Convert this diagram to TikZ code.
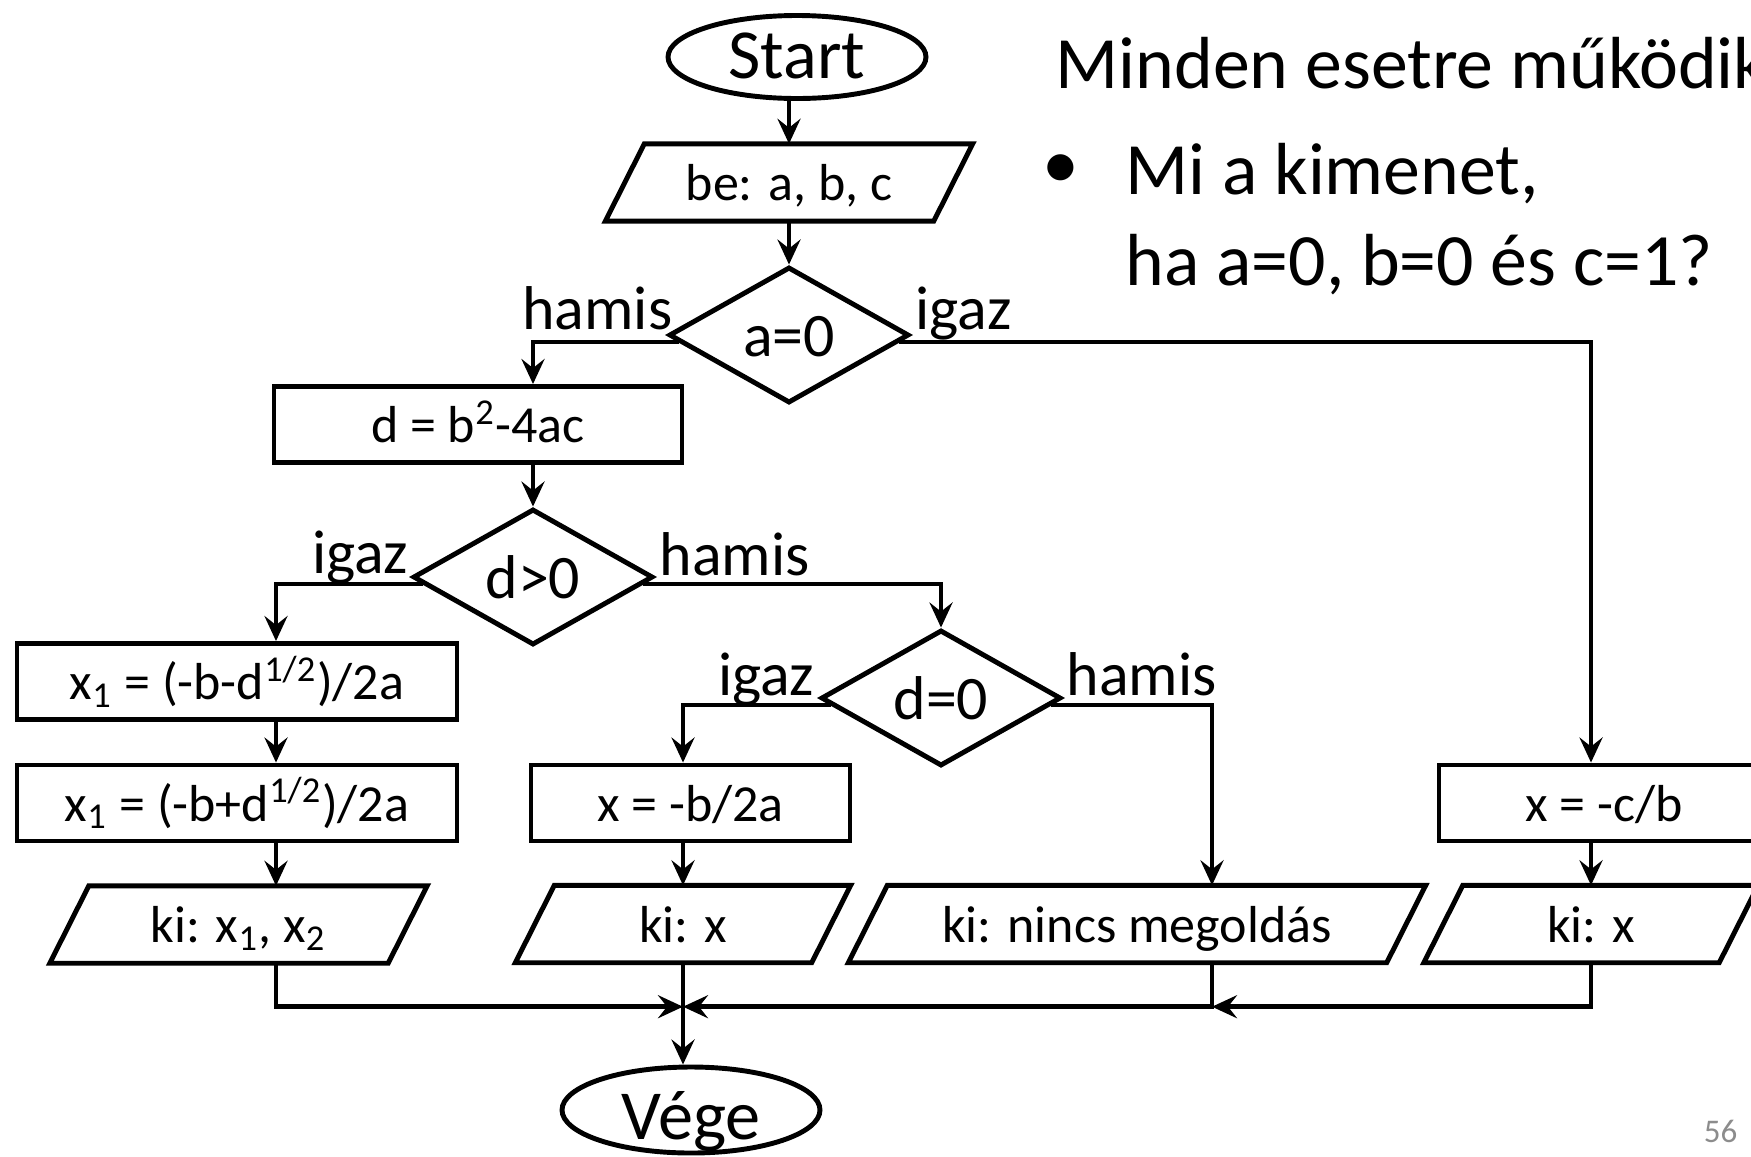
\documentclass[tikz,border=0pt]{standalone}
\usepackage{fontspec}
\setmainfont{Carlito}
\usetikzlibrary{shapes.geometric,arrows.meta,calc}

% parallelogram for input/output steps: #1 name, #2 x, #3 y, #4 side length, #5 text
\newcommand\ioshape[5]{%
  \node[iotext, minimum width=#4] (#1) at (#2,#3) {#5};
  \draw[shapeline] ([xshift=1.95mm]#1.north west) -- ([xshift=1.95mm]#1.north east)
    -- ([xshift=-1.95mm]#1.south east) -- ([xshift=-1.95mm]#1.south west) -- cycle;
}

\begin{document}
\begin{tikzpicture}[x=0.1mm,y=-0.1mm,
  shapeline/.style={line width=1.4pt, line join=miter},
  flow/.style={line width=1.3pt, -{Stealth[length=2.5mm,width=2.3mm,inset=0.9mm]}},
  boxtxt/.style={font=\fontsize{14.8}{17}\selectfont, text height=10.4pt, text depth=0pt, inner sep=0pt},
  procbox/.style={boxtxt, draw, shapeline, minimum height=7.6mm},
  iotext/.style={boxtxt, minimum height=7.6mm},
  decision/.style={diamond, draw, shapeline, aspect=1.76, inner sep=0pt,
    minimum width=24mm, minimum height=13.6mm,
    font=\fontsize{17.6}{20}\selectfont, text height=12.3pt, text depth=0pt},
  terminal/.style={ellipse, draw, shapeline, inner sep=0pt, minimum width=25.8mm,
    font=\fontsize{20}{23}\selectfont, text depth=0pt},
  branch/.style={font=\fontsize{17.6}{20}\selectfont, inner sep=0pt},
  bigtext/.style={font=\fontsize{21}{25}\selectfont, inner sep=0pt},
]
\useasboundingbox (0,0) rectangle (1751,1156);
\fill[white] (0,0) rectangle (1751,1156);
\clip (0,0) rectangle (1751,1156);

% column positions of the connectors
\coordinate (colA) at (276,0);
\coordinate (colC) at (1212,0);

% nodes
\node[terminal, minimum height=8.3mm, text height=12.5pt] (start) at (797,57) {Start};
\ioshape{in}{789}{182.5}{32.7mm}{be: a, b, c}
\node[decision] (a0) at (789,335) {a=0};
\node[procbox, minimum width=40.8mm] (dd) at (478,424.5) {d = b\textsuperscript{2}-4ac};
\node[decision] (dgt) at (533,577) {d>0};
\node[decision] (deq) at (941,698) {d=0};
\node[procbox, minimum width=44mm] (xa) at (237,681.5) {x\textsubscript{1} = (-b-d\textsuperscript{1/2})/2a};
\node[procbox, minimum width=44mm] (xb) at (237,803) {x\textsubscript{1} = (-b+d\textsuperscript{1/2})/2a};
\node[procbox, minimum width=31.9mm] (xs) at (690.5,803) {x = -b/2a};
\node[procbox, minimum width=33mm] (xc) at (1604,803) {x = -c/b};
\ioshape{outa}{238.5}{924.5}{33.7mm}{ki: x\textsubscript{1}, x\textsubscript{2}}
\ioshape{outb}{683}{924}{29.5mm}{ki: x}
\ioshape{outc}{1137}{924}{53.7mm}{ki: nincs megoldás}
\ioshape{outd}{1591}{924}{29.4mm}{ki: x}
\node[terminal, minimum height=8.6mm, text height=17pt] (end) at (691,1110) {Vége};

% branch labels
\node[branch, anchor=base east] (l1) at (673,329) {hamis};
\node[branch, anchor=base west] (l2) at (915,329) {igaz};
\node[branch, anchor=base east] (l3) at (409,573) {igaz};
\node[branch, anchor=base west] (l4) at (659,575) {hamis};
\node[branch, anchor=base east] (l5) at (815,695) {igaz};
\node[branch, anchor=base west] (l6) at (1066,695) {hamis};

% exit points on the lower edges of the decisions
\coordinate (a0l) at ($(a0.west)!0.1!(a0.south)$);
\coordinate (a0r) at ($(a0.east)!0.1!(a0.south)$);
\coordinate (dgtl) at ($(dgt.west)!0.1!(dgt.south)$);
\coordinate (dgtr) at ($(dgt.east)!0.1!(dgt.south)$);
\coordinate (deql) at ($(deq.west)!0.1!(deq.south)$);
\coordinate (deqr) at ($(deq.east)!0.1!(deq.south)$);
\coordinate (mrg) at ($(outb.south)+(0,44)$);

% connectors
\draw[flow] (start.south -| in.north) -- (in.north);
\draw[flow] (in.south) -- (a0.north);
\draw[flow] (a0l) -| (dd.north -| dgt.north);
\draw[flow] (a0r) -| (xc.north -| outd.north);
\draw[flow] (dd.south -| dgt.north) -- (dgt.north);
\draw[flow] (dgtl) -| (xa.north -| colA);
\draw[flow] (dgtr) -| (deq.north);
\draw[flow] (xa.south -| colA) -- (xb.north -| colA);
\draw[flow] (xb.south -| colA) -- (outa.north -| colA);
\draw[flow] (deql) -| (xs.north -| outb.north);
\draw[flow] (deqr) -| (outc.north -| colC);
\draw[flow] (xs.south -| outb.north) -- (outb.north);
\draw[flow] (xc.south -| outd.north) -- (outd.north);
\draw[flow] (outa.south -| colA) |- (mrg);
\draw[flow] (outc.south -| colC) |- (mrg);
\draw[flow] (outd.south) |- (mrg -| colC);
\draw[flow] (outb.south) -- (end.north -| outb.south);

% question beside the chart
\node[bigtext, anchor=base west] (q0) at (1055,88) {Minden esetre működik};
\node[bigtext, anchor=base] (bul) at (1061,188) {•};
\node[bigtext, anchor=base west] (q1) at (1125,194) {Mi a kimenet,};
\node[bigtext, anchor=base west] (q2) at (1125,285) {ha a=0, b=0 és c=1?};

% slide number
\node[font=\fontsize{9.4}{11}\selectfont, text=black!45, inner sep=0pt, anchor=base east] (pg) at (1738,1142) {56};
\end{tikzpicture}
\end{document}
